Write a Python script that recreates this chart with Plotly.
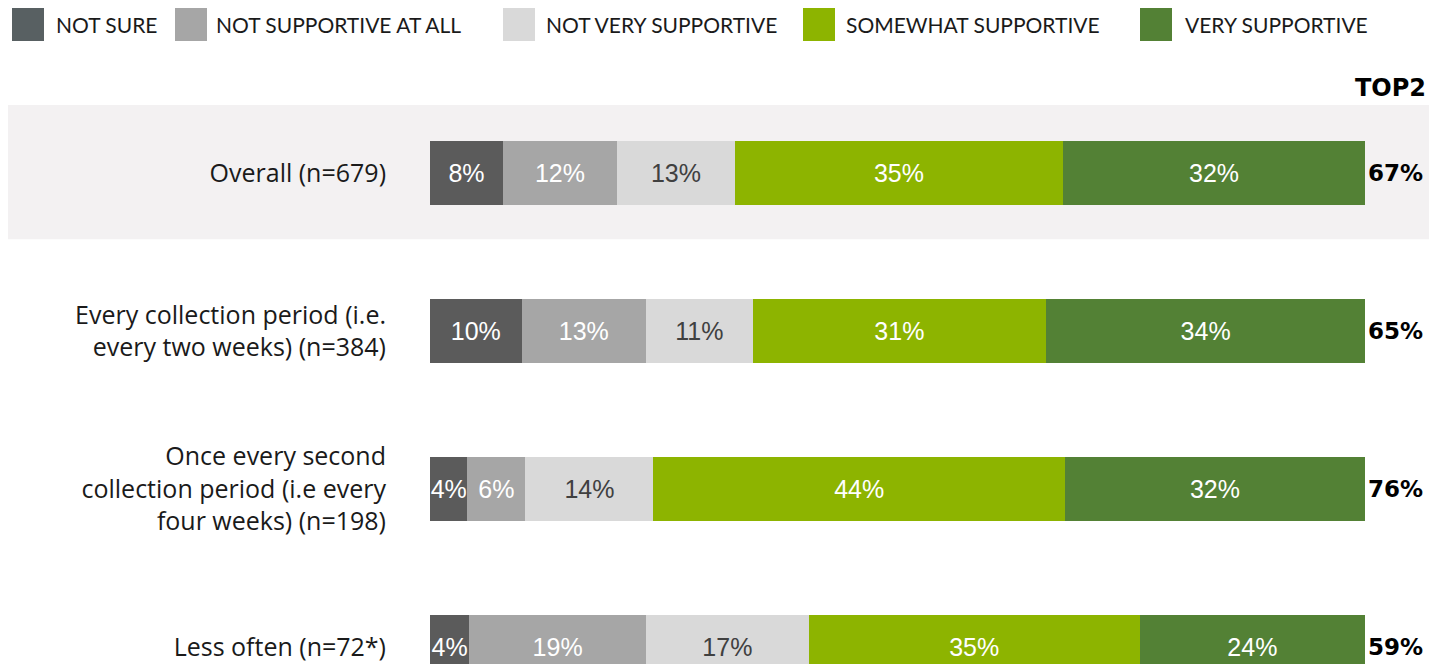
import plotly.graph_objects as go

categories = [
    "Overall (n=679)",
    "Every collection period (i.e.<br>every two weeks) (n=384)",
    "Once every second<br>collection period (i.e every<br>four weeks) (n=198)",
    "Less often (n=72*)",
]
series_names = ["NOT SURE", "NOT SUPPORTIVE AT ALL", "NOT VERY SUPPORTIVE",
                "SOMEWHAT SUPPORTIVE", "VERY SUPPORTIVE"]
not_sure = [7.8, 9.8, 4.0, 4.2]
not_supportive_at_all = [12.2, 13.3, 6.2, 18.9]
not_very_supportive = [12.6, 11.4, 13.7, 17.4]
somewhat_supportive = [35.1, 31.4, 44.0, 35.4]
very_supportive = [32.3, 34.1, 32.1, 24.1]
top2 = [67, 65, 76, 59]

series_values = [not_sure, not_supportive_at_all, not_very_supportive,
                 somewhat_supportive, very_supportive]
colors = ["#5b5b5b", "#a6a6a6", "#d9d9d9", "#8db400", "#538135"]
legend_colors = ["#586062", "#a6a6a6", "#d9d9d9", "#8db400", "#538135"]
text_colors = ["#ffffff", "#ffffff", "#404040", "#ffffff", "#ffffff"]

# page body has an 8px margin on every side; work in page pixels and convert
OFF = 8
PAGE_W, PAGE_H = 1437, 672
W, H = PAGE_W - 2 * OFF, PAGE_H - 2 * OFF
RIGHT_EDGE = OFF + W                     # last visible page pixel column
PL, PR, PT, PB = 430, 1365, 105, PAGE_H - OFF   # plot area in page pixels
ML, MR, MT, MB = PL - OFF, RIGHT_EDGE - PR, PT - OFF, 0
PW, PH = PR - PL, PB - PT
ROW_PX = 158.0
ROW0_Y = 173.0

def px_x(p):
    return (p - PL) / PW

def px_y(p):
    return (PB - p) / PH

fig = go.Figure()
for name, vals, col, tcol in zip(series_names, series_values, colors, text_colors):
    fig.add_trace(go.Bar(
        y=categories, x=vals, name=name, orientation="h",
        marker=dict(color=col, line=dict(width=0)),
        width=0.4,
        texttemplate="%{x:.0f}%", textposition="inside",
        insidetextanchor="middle", constraintext="none", textangle=0,
        textfont=dict(family="Liberation Sans, Arial", size=25, color=tcol),
        showlegend=False, hoverinfo="name+x",
    ))

# band behind the first row
fig.add_shape(type="rect", xref="paper", yref="y",
              x0=px_x(0), x1=px_x(RIGHT_EDGE), y0=-0.43, y1=0.42,
              fillcolor="#f3f1f2", line=dict(width=0), layer="below")

# manual legend
sw_x = [12, 175, 503, 803, 1140]
tx_x = [54, 214, 544, 844, 1183]
for name, lc, sx, tx in zip(series_names, legend_colors, sw_x, tx_x):
    fig.add_shape(type="rect", xref="paper", yref="paper",
                  x0=px_x(sx), x1=px_x(sx + 32), y0=px_y(41), y1=px_y(8),
                  fillcolor=lc, line=dict(width=0))
    fig.add_annotation(xref="paper", yref="paper", x=px_x(tx), y=px_y(25),
                       text=name, showarrow=False, xanchor="left", yanchor="middle",
                       font=dict(family="Lato", size=21, color="#1a1a1a"))

# TOP2 header and values
fig.add_annotation(xref="paper", yref="paper", x=px_x(RIGHT_EDGE - 1), y=px_y(88),
                   text="<b>TOP2</b>", showarrow=False, xanchor="right", yanchor="middle",
                   font=dict(family="DejaVu Sans", size=24, color="#000000"))
for cat, v in zip(categories, top2):
    fig.add_annotation(xref="paper", yref="y", x=px_x(1366), y=cat,
                       text=f"<b>{v}%</b>", showarrow=False, xanchor="left", yanchor="middle",
                       font=dict(family="DejaVu Sans", size=23, color="#000000"))

fig.update_layout(
    barmode="stack", width=W, height=H,
    margin=dict(l=ML, r=MR, t=MT, b=MB, pad=0),
    paper_bgcolor="#ffffff", plot_bgcolor="rgba(0,0,0,0)",
    bargap=0.6,
)
y_top = (PT - ROW0_Y) / ROW_PX
y_bot = (PB - ROW0_Y) / ROW_PX
fig.update_xaxes(range=[0, 100], visible=False, fixedrange=True)
fig.update_yaxes(range=[y_bot, y_top], showgrid=False, zeroline=False, showline=False,
                 ticks="", ticklabelstandoff=43,
                 tickfont=dict(family="Open Sans", size=25, color="#1a1a1a"))

fig.write_html("out.html")
